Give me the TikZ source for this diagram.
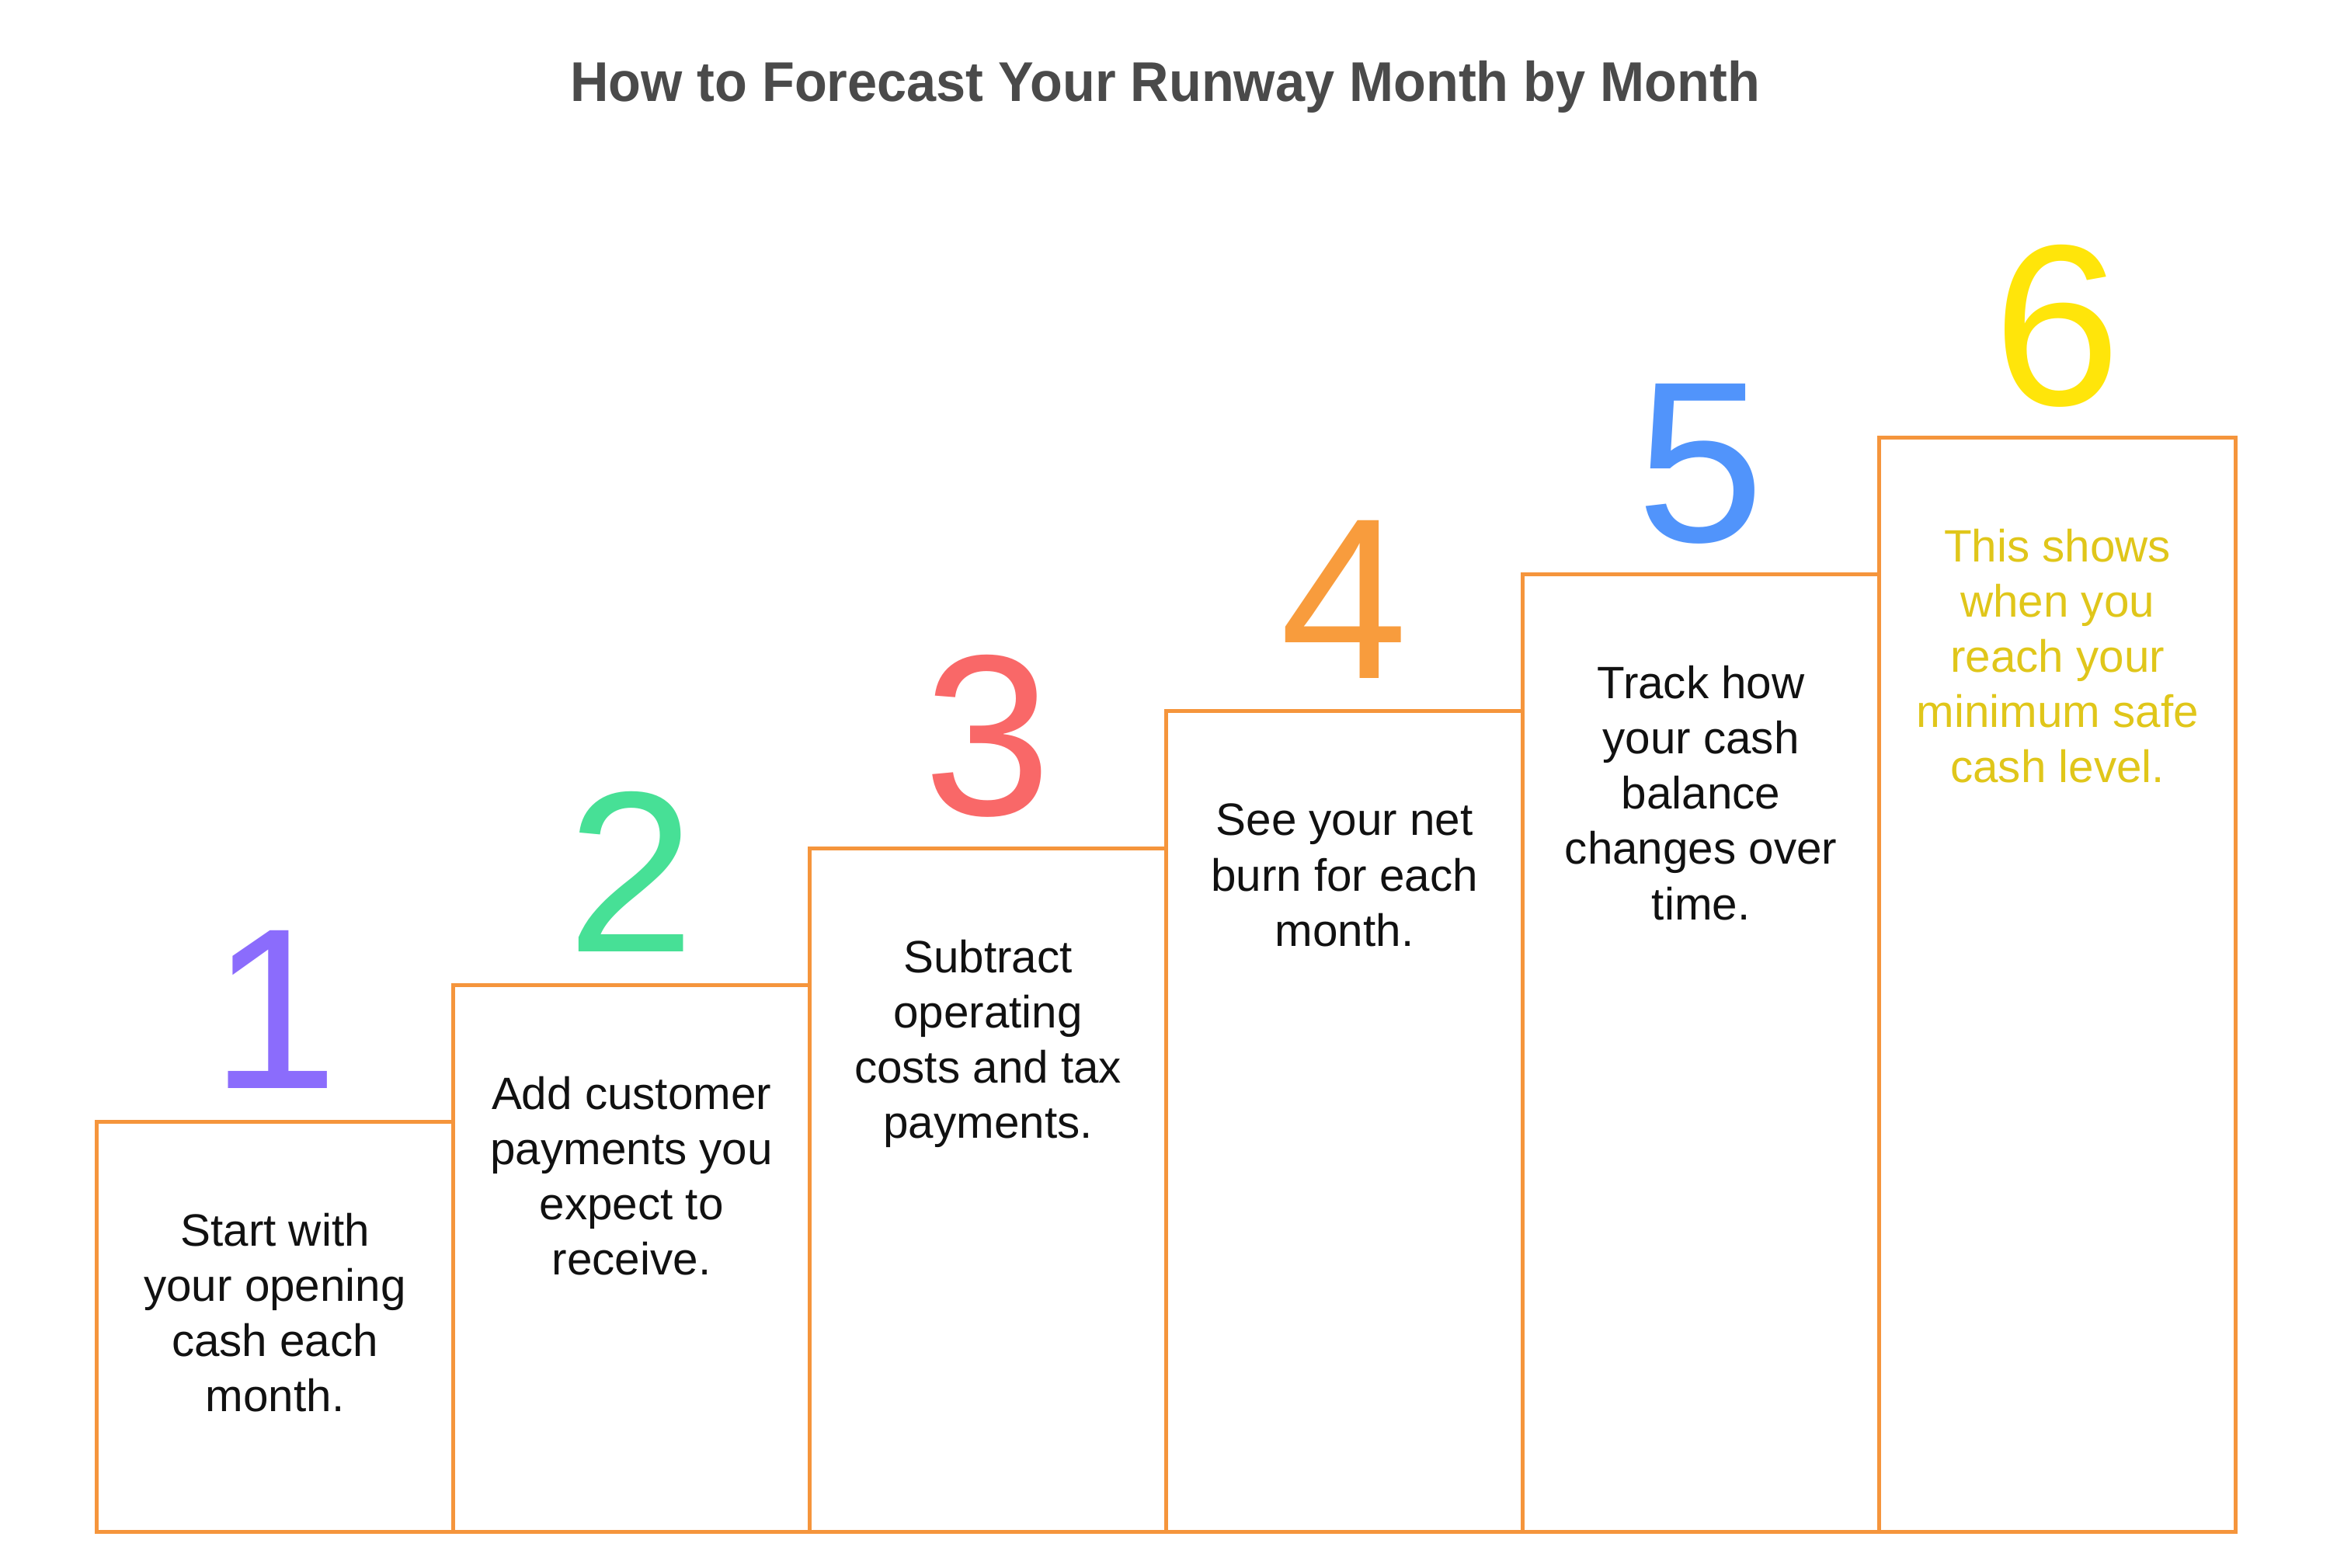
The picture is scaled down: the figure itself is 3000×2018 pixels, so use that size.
\documentclass[tikz,border=0pt]{standalone}
\usepackage{fontspec}
\setmainfont{Liberation Sans}
\definecolor{edge}{HTML}{F5953C}
\definecolor{cone}{HTML}{8B6CFC}
\definecolor{ctwo}{HTML}{47E096}
\definecolor{cthree}{HTML}{F96868}
\definecolor{cfour}{HTML}{F89C3D}
\definecolor{cfive}{HTML}{5194FB}
\definecolor{csix}{HTML}{FFE50A}
\definecolor{tsix}{HTML}{E0C61A}
\definecolor{titlegray}{HTML}{4A4A4A}
\definecolor{bodytext}{HTML}{111111}
\tikzset{
  stepbox/.style={draw=edge, line width=1.4pt, rectangle, inner sep=0pt, anchor=south west, minimum width=4.59cm},
  digit/.style={anchor=base, inner sep=0pt, font=\fontsize{84}{90}\selectfont},
  steptext/.style={anchor=north, inner sep=0pt, align=center, text=bodytext, font=\fontsize{16.6}{20.2}\selectfont},
}
\begin{document}
\begin{tikzpicture}[x=0.01cm, y=-0.01cm]
\useasboundingbox (0,0) rectangle (3000,2018);
\node[anchor=base, inner sep=0pt, text=titlegray, font=\fontsize{20.5}{24}\selectfont\bfseries] (title) at (1500,130) {\scalebox{0.95}[1]{How to Forecast Your Runway Month by Month}};

\node[stepbox, minimum height=5.28cm] (b1) at (122,1975) {};
\node[stepbox, minimum height=7.04cm] (b2) at (581,1975) {};
\node[stepbox, minimum height=8.80cm] (b3) at (1040,1975) {};
\node[stepbox, minimum height=10.56cm] (b4) at (1499,1975) {};
\node[stepbox, minimum height=12.32cm] (b5) at (1958,1975) {};
\node[stepbox, minimum height=14.08cm] (b6) at (2417,1975) {};

\node[digit, text=cone] (n1) at ([yshift=0.40cm]b1.north) {1};
\node[digit, text=ctwo] (n2) at ([yshift=0.40cm]b2.north) {2};
\node[digit, text=cthree] (n3) at ([yshift=0.40cm]b3.north) {3};
\node[digit, text=cfour] (n4) at ([yshift=0.40cm]b4.north) {4};
\node[digit, text=cfive] (n5) at ([yshift=0.40cm]b5.north) {5};
\node[digit, text=csix] (n6) at ([yshift=0.40cm]b6.north) {6};

\node[steptext] (t1) at ([yshift=-1.12cm]b1.north) {\strut Start with\\your opening\\cash each\\month.};
\node[steptext] (t2) at ([yshift=-1.12cm]b2.north) {\strut Add customer\\payments you\\expect to\\receive.};
\node[steptext] (t3) at ([yshift=-1.12cm]b3.north) {\strut Subtract\\operating\\costs and tax\\payments.};
\node[steptext] (t4) at ([yshift=-1.12cm]b4.north) {\strut See your net\\burn for each\\month.};
\node[steptext] (t5) at ([yshift=-1.12cm]b5.north) {\strut Track how\\your cash\\balance\\changes over\\time.};
\node[steptext, text=tsix] (t6) at ([yshift=-1.12cm]b6.north) {\strut This shows\\when you\\reach your\\minimum safe\\cash level.};
\end{tikzpicture}
\end{document}
